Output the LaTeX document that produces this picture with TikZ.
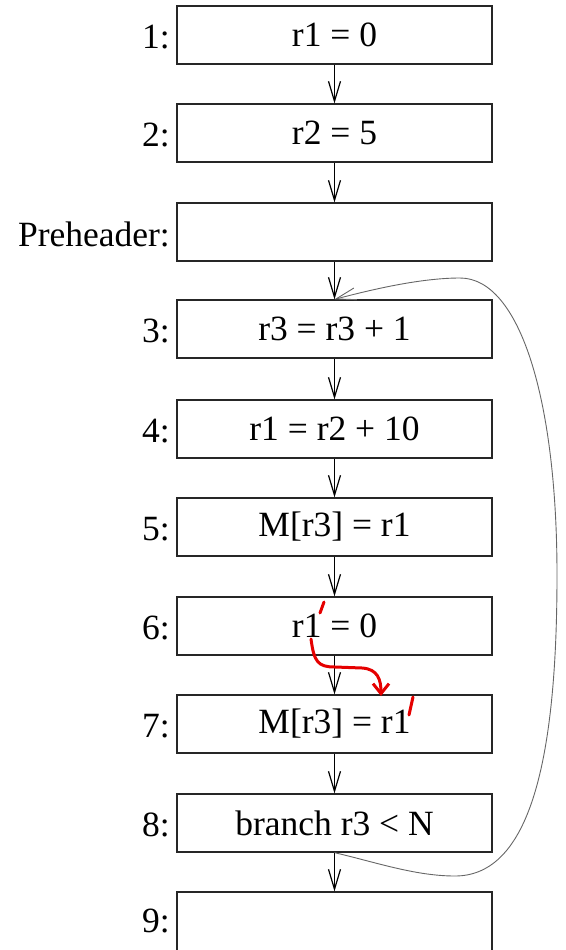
\documentclass[tikz,border=0pt]{standalone}
\usepackage{fontspec}
\setmainfont{Liberation Serif}
\usetikzlibrary{arrows.meta}

\begin{document}
\begin{tikzpicture}[x=1pt, y=-1pt,
        blk/.style={draw=black!85, line width=1.3pt, minimum width=315pt, minimum height=58pt, inner sep=0pt, font=\fontsize{35.5}{35.5}\selectfont},
        lbl/.style={anchor=east, inner sep=0pt, font=\fontsize{35.5}{35.5}\selectfont},
        flow/.style={line width=1.2pt, black, -{Straight Barb[length=20pt, width=12pt, line width=1.2pt]}},
        back/.style={line width=0.9pt, black!60, -{Straight Barb[length=20pt, width=12pt, line width=0.9pt]}},
        mark1/.style={line width=3pt, red!90!black, line cap=round}]
    \useasboundingbox (0,0) rectangle (565,950);

            \node[blk] (b1) at (334.5, 35)  {r1 = 0};
            \node[blk] (b2) at (334.5, 133) {r2 = 5};
            \node[blk] (ph) at (334.5, 232) {};
            \node[blk] (b3) at (334.5, 329) {r3 = r3 + 1};
            \node[blk] (b4) at (334.5, 429) {r1 = r2 + 10};
            \node[blk] (b5) at (334.5, 527) {M[r3] = r1};
            \node[blk] (b6) at (334.5, 626) {r1 = 0};
            \node[blk] (b7) at (334.5, 724) {M[r3] = r1};
            \node[blk] (b8) at (334.5, 823) {branch r3 < N};
            \node[blk, minimum height=90pt] (b9) at (334.5, 937) {};

            \node[lbl] (l1) at (170, 37)  {1:};
            \node[lbl] (l2) at (170, 135) {2:};
            \node[lbl] (lph) at (170, 234) {Preheader:};
            \node[lbl] (l3) at (170, 331) {3:};
            \node[lbl] (l4) at (170, 431) {4:};
            \node[lbl] (l5) at (170, 529) {5:};
            \node[lbl] (l6) at (170, 628) {6:};
            \node[lbl] (l7) at (170, 726) {7:};
            \node[lbl] (l8) at (170, 825) {8:};
            \node[lbl] (l9) at (170, 921) {9:};

            \draw[flow] (b1) -- (b2);
            \draw[flow] (b2) -- (ph);
            \draw[flow] (ph) -- (b3);
            \draw[flow] (b3) -- (b4);
            \draw[flow] (b4) -- (b5);
            \draw[flow] (b5) -- (b6);
            \draw[flow] (b6) -- (b7);
            \draw[flow] (b7) -- (b8);
            \draw[flow] (b8.south) -- (b9.north);

            % loop back edge
            \draw[back] (b8.south) .. controls (375,862) and (415,876) .. (455,876)
                .. controls (530,876) and (557,760) .. (557,575)
                .. controls (557,400) and (520,278) .. (460,278)
                .. controls (420,278) and (370,290) .. (b3.north);

            % red marks
            \coordinate (p1a) at (324,602);
            \coordinate (p1b) at (320,613);
            \coordinate (p2a) at (413,697);
            \coordinate (p2b) at (409,715);
            \coordinate (ra) at (311,639);
            \coordinate (rb) at (381,696);
            \draw[mark1] (p1a) -- (p1b);
            \draw[mark1] (p2a) -- (p2b);
            \draw[mark1, -{Straight Barb[length=10pt, width=16pt, line width=3pt]}] (ra) .. controls (314,662) and (318,667) .. (335,667)
                -- (362,668) .. controls (378,669) and (381,680) .. (rb);
\end{tikzpicture}
\end{document}
